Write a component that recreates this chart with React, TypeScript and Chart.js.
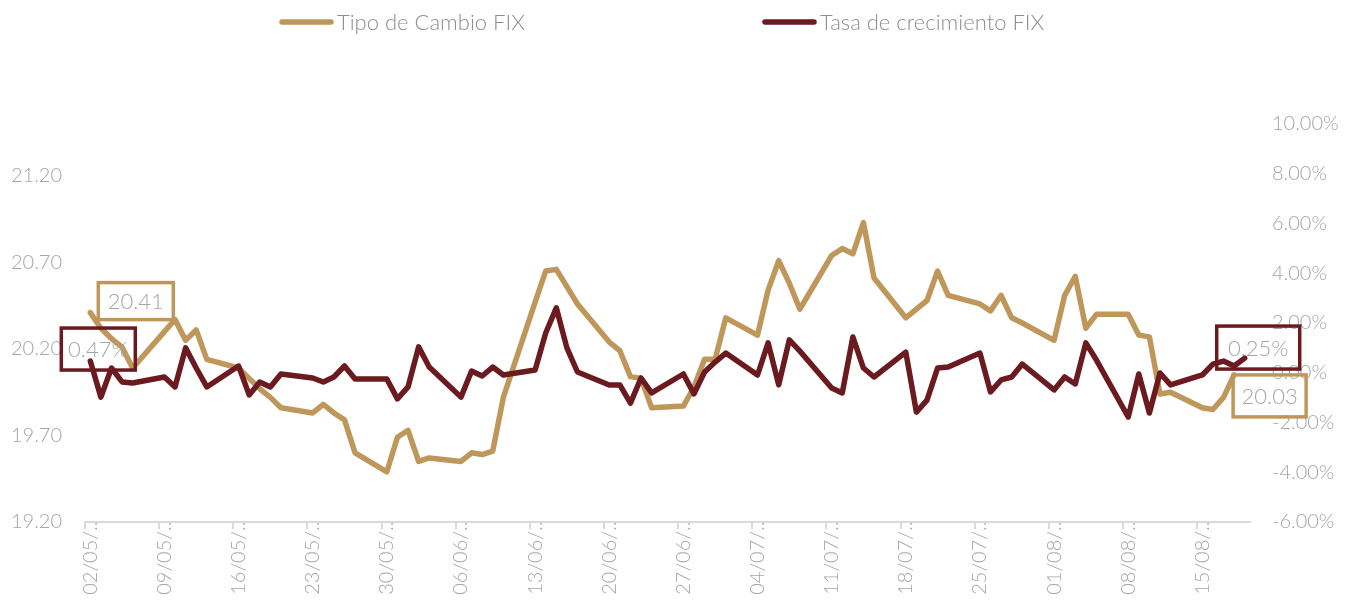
import React, { useEffect, useRef } from "react";
import { Chart, registerables } from "chart.js";

Chart.register(...registerables);

// ---------- DATA ----------
// Calendar days shown on the axis: 02/05/2022 .. 19/08/2022 (110 days)
const startDate = new Date(2022, 4, 2);
const dayCount = 110;

const categories: string[] = Array.from({ length: dayCount }, (_, i) => {
  const d = new Date(startDate.getFullYear(), startDate.getMonth(), startDate.getDate() + i);
  const dd = String(d.getDate()).padStart(2, "0");
  const mm = String(d.getMonth() + 1).padStart(2, "0");
  return `${dd}/${mm}/${d.getFullYear()}`;
});

// Tick labels (every Monday), as they appear truncated on the chart
const tickLabels: string[] = [
  "02/05/...", "09/05/...", "16/05/...", "23/05/...", "30/05/...", "06/06/...",
  "13/06/...", "20/06/...", "27/06/...", "04/07/...", "11/07/...", "18/07/...",
  "25/07/...", "01/08/...", "08/08/...", "15/08/...",
];

// Tipo de Cambio FIX, business days (Mon..Fri) per week
const tipoCambioWeeks: (number | null)[][] = [
  [20.41, 20.32, 20.26, 20.21, 20.09],
  [20.30, 20.37, 20.25, 20.31, 20.14],
  [20.09, 20.03, 19.97, 19.92, 19.86],
  [19.83, 19.88, 19.83, 19.79, 19.60],
  [19.49, 19.69, 19.73, 19.55, 19.57],
  [19.55, 19.60, 19.59, 19.61, 19.92],
  [20.47, 20.65, 20.66, 20.56, 20.46],
  [20.24, 20.19, 20.04, 20.03, 19.86],
  [19.87, 19.98, 20.14, 20.14, 20.38],
  [20.28, 20.54, 20.71, 20.58, 20.43],
  [20.74, 20.78, 20.75, 20.93, 20.61],
  [20.38, 20.43, 20.48, 20.65, 20.51],
  [20.46, 20.42, 20.51, 20.38, 20.35],
  [20.25, 20.51, 20.62, 20.32, 20.40],
  [20.40, 20.28, 20.27, 19.94, 19.95],
  [19.86, 19.85, 19.92, 20.05, null],
];

// Tasa de crecimiento FIX (%), business days (Mon..Fri) per week
const tasaWeeks: (number | null)[][] = [
  [0.47, -0.98, 0.19, -0.37, -0.41],
  [-0.17, -0.57, 1.0, 0.19, -0.57],
  [0.27, -0.89, -0.37, -0.57, -0.05],
  [-0.21, -0.37, -0.17, 0.27, -0.25],
  [-0.25, -1.05, -0.57, 1.04, 0.23],
  [-0.98, 0.07, -0.13, 0.23, -0.09],
  [0.11, 1.6, 2.61, 1.0, 0.03],
  [-0.49, -0.49, -1.22, -0.21, -0.81],
  [-0.05, -0.85, 0.03, 0.43, 0.79],
  [-0.09, 1.2, -0.49, 1.32, 0.87],
  [-0.61, -0.81, 1.44, 0.19, -0.17],
  [0.83, -1.58, -1.1, 0.19, 0.23],
  [0.79, -0.77, -0.29, -0.17, 0.35],
  [-0.69, -0.17, -0.45, 1.2, 0.51],
  [-1.78, -0.05, -1.62, -0.01, -0.49],
  [-0.09, 0.35, 0.47, 0.27, 0.59],
];

const seriesNames = ["Tipo de Cambio FIX", "Tasa de crecimiento FIX"];
const dataLabelTexts = ["20.41", "0.47%", "0.25%", "20.03"];

const leftTickValues = [19.2, 19.7, 20.2, 20.7, 21.2];
const leftRange = { min: 19.2, max: 21.5 };
const rightTicks = { min: -6, max: 10, step: 2 };

// ---------- STYLE ----------
const GOLD = "#C0975B";
const DARK = "#6B1A1F";
const TEXT = "#A5A5A5";
const LEGEND_TEXT = "#8E8E8E";
const AXIS = "#D9D9D9";
const FONT = "Lato, 'Open Sans', sans-serif";

const toCalendar = (weeks: (number | null)[][]) =>
  Array.from({ length: dayCount }, (_, i) => {
    const w = Math.floor(i / 7);
    const dow = i % 7;
    if (dow > 4 || !weeks[w]) return null;
    const v = weeks[w][dow];
    return v === undefined ? null : v;
  });

const lastIndex = (arr: (number | null)[]) => {
  for (let i = arr.length - 1; i >= 0; i--) if (arr[i] !== null) return i;
  return 0;
};
const firstIndex = (arr: (number | null)[]) => arr.findIndex((v) => v !== null);

export default function App() {
  const canvasRef = useRef<HTMLCanvasElement | null>(null);

  useEffect(() => {
    if (!canvasRef.current) return;
    const goldData = toCalendar(tipoCambioWeeks);
    const darkData = toCalendar(tasaWeeks);

    const labelSpecs = [
      { ds: 0, idx: firstIndex(goldData), text: dataLabelTexts[0], color: GOLD, dx: 8, dy: -30, w: 75, h: 37 },
      { ds: 1, idx: firstIndex(darkData), text: dataLabelTexts[1], color: DARK, dx: -29, dy: -33, w: 74, h: 42 },
      { ds: 1, idx: lastIndex(darkData), text: dataLabelTexts[2], color: DARK, dx: -28, dy: -32, w: 83, h: 43 },
      { ds: 0, idx: lastIndex(goldData), text: dataLabelTexts[3], color: GOLD, dx: -1, dy: 0, w: 73, h: 42 },
    ];

    const dataLabelPlugin = {
      id: "boxedLabels",
      afterDatasetsDraw(chart: any) {
        const ctx = chart.ctx;
        ctx.save();
        for (const s of labelSpecs) {
          const pt = chart.getDatasetMeta(s.ds).data[s.idx];
          if (!pt) continue;
          const x = pt.x + s.dx;
          const y = pt.y + s.dy;
          ctx.lineWidth = 3.5;
          ctx.strokeStyle = s.color;
          ctx.strokeRect(x, y, s.w, s.h);
          ctx.fillStyle = TEXT;
          ctx.font = `300 22px ${FONT}`;
          ctx.textAlign = "center";
          ctx.textBaseline = "middle";
          ctx.fillText(s.text, x + s.w / 2, y + s.h / 2 + 1);
        }
        ctx.restore();
      },
    };

    const legendPlugin = {
      id: "topLegend",
      afterDraw(chart: any) {
        const ctx = chart.ctx;
        const items = [
          { text: seriesNames[0], color: GOLD, x: 272 },
          { text: seriesNames[1], color: DARK, x: 755 },
        ];
        ctx.save();
        for (const it of items) {
          ctx.beginPath();
          ctx.lineCap = "round";
          ctx.lineWidth = 5.5;
          ctx.strokeStyle = it.color;
          ctx.moveTo(it.x + 2, 14);
          ctx.lineTo(it.x + 51, 14);
          ctx.stroke();
          ctx.fillStyle = LEGEND_TEXT;
          ctx.font = `300 22px ${FONT}`;
          ctx.textAlign = "left";
          ctx.textBaseline = "middle";
          ctx.fillText(it.text, it.x + 57, 15);
        }
        ctx.restore();
      },
    };

    const tickFont = { family: FONT, size: 20, weight: "300" as any };

    const chart = new Chart(canvasRef.current, {
      type: "line",
      data: {
        labels: categories,
        datasets: [
          {
            label: seriesNames[0],
            data: goldData,
            yAxisID: "y",
            borderColor: GOLD,
            backgroundColor: GOLD,
            borderWidth: 5.5,
            pointRadius: 0,
            spanGaps: true,
            borderJoinStyle: "round",
            borderCapStyle: "round",
            order: 1,
          },
          {
            label: seriesNames[1],
            data: darkData,
            yAxisID: "y1",
            borderColor: DARK,
            backgroundColor: DARK,
            borderWidth: 5.5,
            pointRadius: 0,
            spanGaps: true,
            borderJoinStyle: "round",
            borderCapStyle: "round",
            order: 0,
          },
        ],
      },
      options: {
        responsive: true,
        maintainAspectRatio: false,
        animation: false,
        layout: { padding: { top: 116, left: 0, right: 0, bottom: 0 } },
        plugins: {
          legend: { display: false },
          tooltip: { enabled: false },
        },
        elements: { line: { tension: 0 }, point: { radius: 0 } },
        scales: {
          x: {
            type: "category",
            offset: true,
            grid: {
              display: true,
              offset: true,
              drawOnChartArea: false,
              drawTicks: true,
              tickLength: 7,
              lineWidth: 2,
              color: (c: any) => (c.index % 7 === 0 ? AXIS : "rgba(0,0,0,0)"),
            },
            border: { display: true, color: AXIS, width: 2 },
            ticks: {
              autoSkip: false,
              minRotation: 90,
              maxRotation: 90,
              padding: -12,
              color: TEXT,
              font: tickFont,
              callback: (_v: any, i: number) => (i % 7 === 0 ? tickLabels[i / 7] ?? "" : ""),
            },
            afterFit: (s: any) => {
              s.height = 83;
            },
          },
          y: {
            position: "left",
            min: leftRange.min,
            max: leftRange.max,
            grid: { display: false, drawTicks: false },
            border: { display: false },
            ticks: {
              padding: 23,
              color: TEXT,
              font: tickFont,
              callback: (v: any) => Number(v).toFixed(2),
            },
            afterBuildTicks: (s: any) => {
              s.ticks = leftTickValues.map((value) => ({ value }));
            },
            afterFit: (s: any) => {
              s.width = 77;
            },
          },
          y1: {
            position: "right",
            min: rightTicks.min,
            max: rightTicks.max,
            grid: { display: false, drawTicks: false },
            border: { display: false },
            ticks: {
              stepSize: rightTicks.step,
              padding: 22,
              color: TEXT,
              font: tickFont,
              callback: (v: any) => Number(v).toFixed(2) + "%",
            },
            afterFit: (s: any) => {
              s.width = 101;
            },
          },
        },
      },
      plugins: [dataLabelPlugin, legendPlugin],
    });

    return () => chart.destroy();
  }, []);

  return (
    <div style={{ position: "relative", width: "100%", height: "597px" }}>
      <canvas ref={canvasRef} />
    </div>
  );
}
